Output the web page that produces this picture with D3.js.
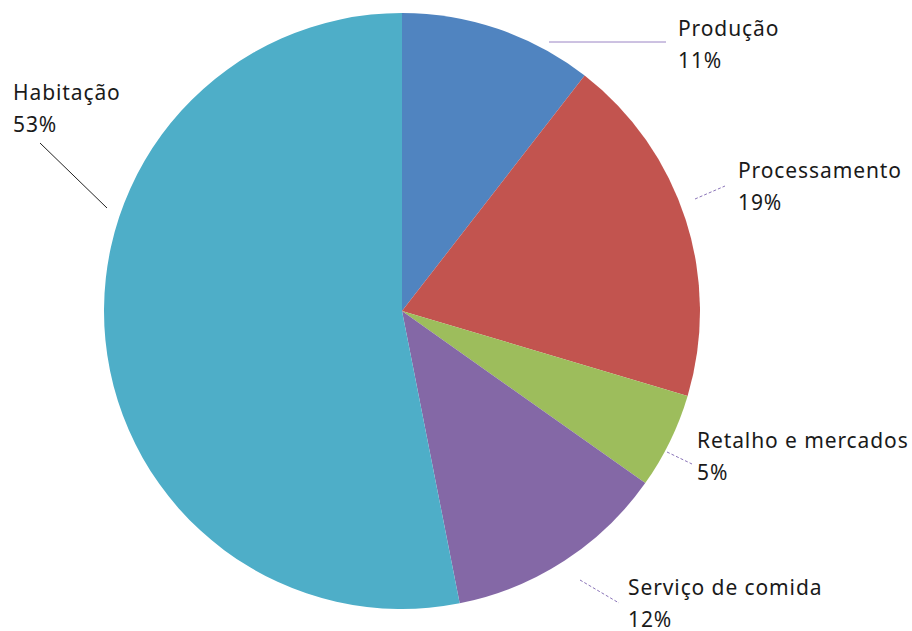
<!DOCTYPE html>
<html>
<head>
<meta charset="utf-8">
<script src="https://cdn.jsdelivr.net/npm/d3@7"></script>
<style>
  body { margin: 0; background: #fff; }
  svg text { font-family: "Noto Sans", "Open Sans", sans-serif; fill: #1a1a1a; }
</style>
</head>
<body>
<div id="chart"></div>
<script>
const categories = ["Produção", "Processamento", "Retalho e mercados", "Serviço de comida", "Habitação"];
const values = [10.5, 19.1, 5.2, 12.1, 53.1];
const pctLabels = ["11%", "19%", "5%", "12%", "53%"];
const colors = ["#5084C0", "#C2544F", "#9DBD5C", "#8468A6", "#4EAEC8"];

// label anchors and leader lines (layout only)
const labelPos = [
    { x: 678, y: 36, line: [[549, 42], [666, 42]], stroke: "#9a84c4", dash: null },
    { x: 738, y: 178, line: [[695, 199], [725, 186]], stroke: "#8a74b8", dash: "3,2" },
    { x: 697, y: 448, line: [[667, 452], [692, 464]], stroke: "#8a74b8", dash: "3,2" },
    { x: 628, y: 595, line: [[580, 580], [619, 603]], stroke: "#8a74b8", dash: "3,2" },
    { x: 13, y: 100, line: [[40, 143], [107, 208]], stroke: "#222", dash: null }
];

const width = 912, height = 631;
const cx = 402, cy = 311, radius = 298;

const svg = d3.select("#chart").append("svg")
    .attr("width", width)
    .attr("height", height);

const pie = d3.pie().sort(null).value(d => d);
const arc = d3.arc().innerRadius(0).outerRadius(radius);

const g = svg.append("g").attr("transform", `translate(${cx},${cy})`);

g.selectAll("path")
    .data(pie(values))
    .enter().append("path")
    .attr("d", arc)
    .attr("fill", (d, i) => colors[i]);

// leader lines
svg.selectAll("line.leader")
    .data(labelPos)
    .enter().append("line")
    .attr("class", "leader")
    .attr("x1", d => d.line[0][0])
    .attr("y1", d => d.line[0][1])
    .attr("x2", d => d.line[1][0])
    .attr("y2", d => d.line[1][1])
    .attr("stroke", d => d.stroke)
    .attr("stroke-width", 1)
    .attr("stroke-dasharray", d => d.dash);

// labels
const labels = svg.selectAll("text.lbl")
    .data(categories)
    .enter().append("text")
    .attr("class", "lbl")
    .attr("font-size", 21)
    .attr("letter-spacing", 0.9);

labels.append("tspan")
    .attr("x", (d, i) => labelPos[i].x)
    .attr("y", (d, i) => labelPos[i].y)
    .text(d => d);

labels.append("tspan")
    .attr("x", (d, i) => labelPos[i].x)
    .attr("y", (d, i) => labelPos[i].y + 32)
    .text((d, i) => pctLabels[i]);
</script>
</body>
</html>
